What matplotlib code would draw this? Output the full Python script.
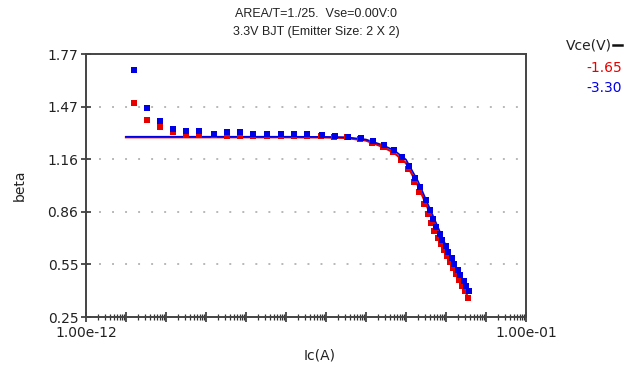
import matplotlib
matplotlib.use("Agg")
import matplotlib.pyplot as plt
from matplotlib.ticker import LogLocator, NullFormatter, FixedLocator

plt.rcParams['font.family'] = ['DejaVu Sans']

# measured beta vs log10(Ic), Vce = -1.65 V (red) and -3.30 V (blue)
logic_blue = [-10.80, -10.47, -10.15, -9.82, -9.49, -9.17, -8.80, -8.47, -8.14, -7.82,
              -7.48, -7.12, -6.79, -6.47, -6.11, -5.78, -5.45, -5.12, -4.83, -4.55,
              -4.30, -4.10, -3.93, -3.78, -3.64, -3.51, -3.41, -3.33, -3.25, -3.16,
              -3.09, -3.01, -2.94, -2.86, -2.79, -2.71, -2.64, -2.56, -2.49, -2.43]
beta_blue = [1.676, 1.460, 1.385, 1.339, 1.327, 1.327, 1.310, 1.320, 1.320, 1.308,
             1.306, 1.308, 1.308, 1.305, 1.302, 1.299, 1.293, 1.282, 1.266, 1.243,
             1.216, 1.174, 1.121, 1.051, 0.999, 0.927, 0.869, 0.817, 0.771, 0.731,
             0.696, 0.662, 0.627, 0.592, 0.558, 0.523, 0.491, 0.460, 0.428, 0.399]

logic_red = [-10.80, -10.47, -10.15, -9.82, -9.49, -9.17, -8.80, -8.47, -8.14, -7.82,
             -7.48, -7.13, -6.80, -6.48, -6.12, -5.80, -5.47, -5.15, -4.86, -4.58,
             -4.33, -4.13, -3.96, -3.81, -3.67, -3.55, -3.45, -3.37, -3.29, -3.20,
             -3.13, -3.05, -2.98, -2.90, -2.83, -2.75, -2.68, -2.60, -2.52, -2.44]
beta_red = [1.489, 1.387, 1.349, 1.318, 1.302, 1.302, 1.300, 1.298, 1.298, 1.297,
            1.297, 1.296, 1.296, 1.295, 1.294, 1.292, 1.288, 1.276, 1.258, 1.233,
            1.203, 1.158, 1.103, 1.030, 0.975, 0.905, 0.845, 0.792, 0.746, 0.706,
            0.671, 0.636, 0.601, 0.566, 0.532, 0.497, 0.465, 0.432, 0.398, 0.360]

# model curves
logic_model = [-11.0, -10.0, -9.0, -8.0, -7.0, -6.0, -5.5, -5.0, -4.6, -4.3,
               -4.0, -3.7, -3.4, -3.1, -2.8, -2.45]
beta_model_red = [1.289, 1.289, 1.289, 1.289, 1.289, 1.288, 1.285, 1.270, 1.235, 1.200,
                  1.140, 1.010, 0.850, 0.690, 0.530, 0.365]
beta_model_blue = [1.292, 1.292, 1.292, 1.292, 1.292, 1.291, 1.289, 1.276, 1.245, 1.214,
                   1.160, 1.035, 0.875, 0.715, 0.555, 0.400]

y_ticks = [0.25, 0.554, 0.858, 1.162, 1.466, 1.77]
y_labels = ["0.25", "0.55", "0.86", "1.16", "1.47", "1.77"]

red = '#e60000'
blue = '#0000e6'
txt = '#222222'

fig = plt.figure(figsize=(6.35, 3.7), dpi=100)
ax = fig.add_axes([0.1354, 0.1432, 0.6929, 0.7108])

to_amp = lambda xs: [10 ** v for v in xs]

ax.plot(to_amp(logic_model), beta_model_red, color=red, lw=1.6, zorder=2)
ax.plot(to_amp(logic_model), beta_model_blue, color=blue, lw=1.2, zorder=2)
ax.plot(to_amp(logic_red), beta_red, 's', color=red, ms=4.5, mew=0, zorder=3)
ax.plot(to_amp(logic_blue), beta_blue, 's', color=blue, ms=4.5, mew=0, zorder=4)

ax.set_xscale('log')
ax.set_xlim(1e-12, 1e-1)
ax.set_ylim(0.25, 1.77)

ax.xaxis.set_major_locator(FixedLocator([10.0 ** k for k in range(-12, 0)]))
ax.xaxis.set_minor_locator(LogLocator(base=10, subs=range(2, 10), numticks=50))
ax.xaxis.set_minor_formatter(NullFormatter())
ax.set_xticklabels(["1.00e-12"] + [""] * 10 + ["1.00e-01"])

ax.set_yticks(y_ticks)
ax.set_yticklabels(y_labels)

for yv in y_ticks[1:-1]:
    ax.axhline(yv, color='#b8b8b8', lw=1.4, ls=(0, (1, 5.7)), zorder=1)

for s in ax.spines.values():
    s.set_color('#444444')
    s.set_linewidth(1.4)

ax.tick_params(axis='both', which='major', direction='inout', length=7, width=1.2,
               colors='#333333', labelsize=10, labelcolor=txt)
ax.tick_params(axis='x', which='minor', direction='inout', length=4, width=0.9,
               colors='#333333')
ax.tick_params(axis='x', which='major', pad=3)
ax.tick_params(axis='y', which='major', pad=2)

ax.set_xlabel("Ic(A)", fontsize=10, color=txt, va='center')
ax.xaxis.set_label_coords(0.532, -0.145)
ax.set_ylabel("beta", fontsize=10, color=txt, va='center')
ax.yaxis.set_label_coords(-0.15, 0.5)

fig.text(0.498, 0.962, "AREA/T=1./25.  Vse=0.00V:0", ha='center', va='center',
         fontsize=9, color=txt, family='Liberation Sans')
fig.text(0.498, 0.913, "3.3V BJT (Emitter Size: 2 X 2)", ha='center', va='center',
         fontsize=9, color=txt, family='Liberation Sans')

# legend block
fig.text(0.964, 0.878, "Vce(V)", ha='right', va='center', fontsize=10, color=txt)
fig.add_artist(plt.Line2D([0.965, 0.98], [0.878, 0.878], transform=fig.transFigure,
                          color='#111111', lw=1.8))
fig.text(0.98, 0.815, "-1.65", ha='right', va='center', fontsize=10, color=red)
fig.text(0.98, 0.763, "-3.30", ha='right', va='center', fontsize=10, color=blue)

fig.savefig("out.png", dpi=100)
